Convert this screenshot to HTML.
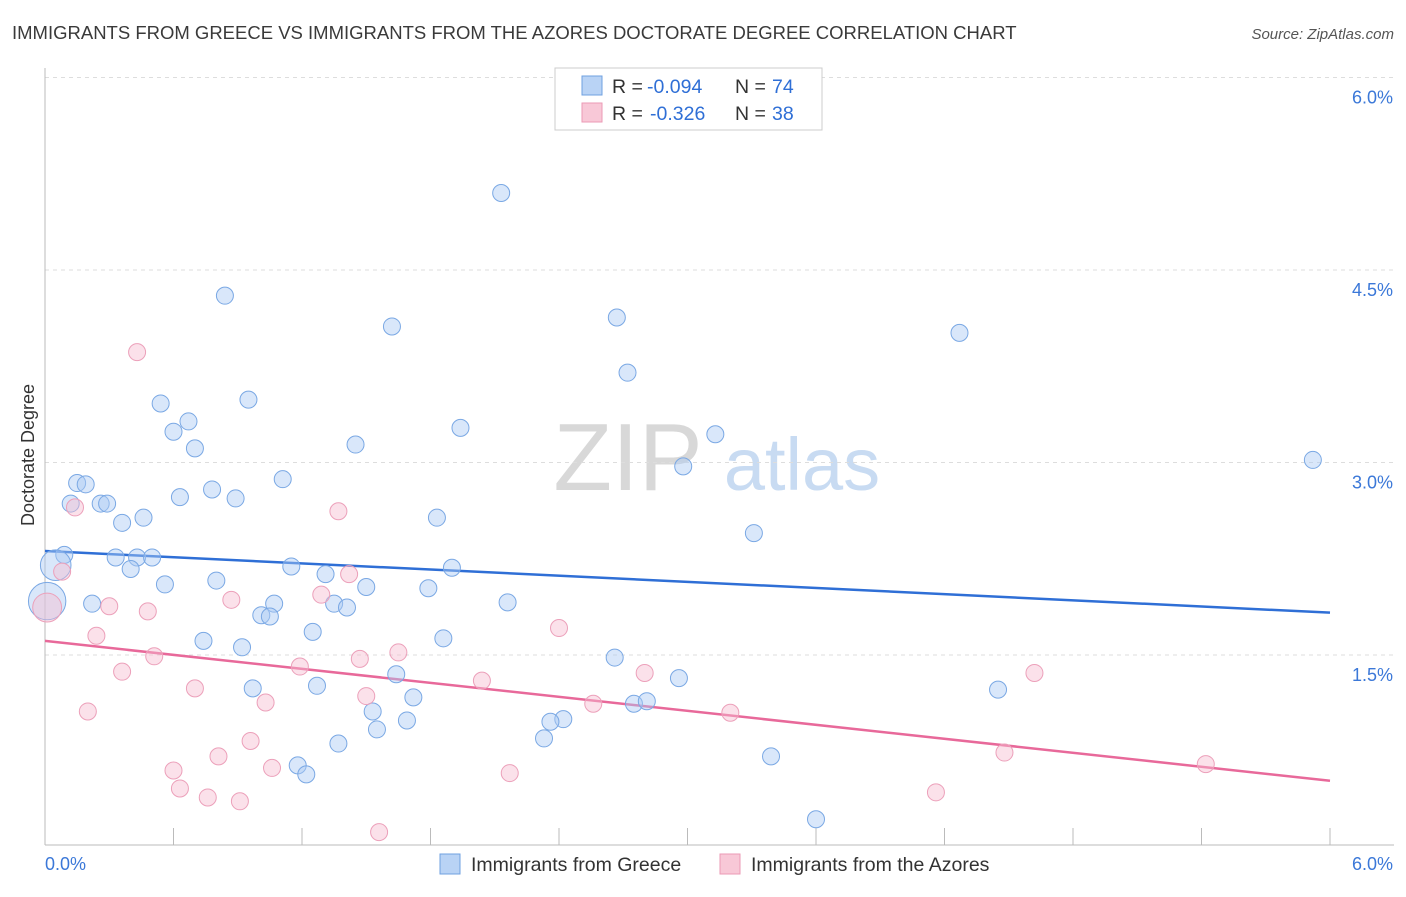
<!DOCTYPE html>
<html><head><meta charset="utf-8"><style>
body{margin:0;background:#fff;font-family:"Liberation Sans",sans-serif}
svg text{font-family:"Liberation Sans",sans-serif}
</style></head><body>
<svg id="chart" width="1406" height="892" xmlns="http://www.w3.org/2000/svg">
<text x="12" y="39" font-size="18.5" fill="#3a3a3a">IMMIGRANTS FROM GREECE VS IMMIGRANTS FROM THE AZORES DOCTORATE DEGREE CORRELATION CHART</text>
<text x="1394" y="39" font-size="15" fill="#555" font-style="italic" text-anchor="end">Source: ZipAtlas.com</text>
<g>
<text x="628" y="490" font-size="96" fill="#d8d8d8" font-family="Liberation Serif" text-anchor="middle">ZIP</text>
<text x="802" y="490" font-size="74" fill="#c8dbf2" text-anchor="middle">atlas</text>
</g>
<g id="grid"></g>
<g id="axes"></g>
<text transform="translate(34,455) rotate(-90)" font-size="18" fill="#333" text-anchor="middle">Doctorate Degree</text>
<line id="trend-blue" stroke="#2f6fd6" stroke-width="2.5"/>
<line id="trend-pink" stroke="#e8699a" stroke-width="2.5"/>
<g id="pts"></g>
<g>
<rect x="555" y="68" width="267" height="62" fill="#fff" stroke="#ccc"/>
<rect x="582" y="76" width="20" height="19" fill="#b9d3f5" stroke="#6fa0e0"/>
<rect x="582" y="103" width="20" height="19" fill="#f8c8d7" stroke="#eb9ab5"/>
<text x="612" y="93" font-size="19.5" fill="#333">R =</text>
<text x="647" y="93" font-size="19.5" fill="#2f6fd6">-0.094</text>
<text x="735" y="93" font-size="19.5" fill="#333">N =</text>
<text x="772" y="93" font-size="19.5" fill="#2f6fd6">74</text>
<text x="612" y="120" font-size="19.5" fill="#333">R =</text>
<text x="650" y="120" font-size="19.5" fill="#2f6fd6">-0.326</text>
<text x="735" y="120" font-size="19.5" fill="#333">N =</text>
<text x="772" y="120" font-size="19.5" fill="#2f6fd6">38</text>
</g>
<g>
<rect x="440" y="854" width="20" height="20" fill="#b9d3f5" stroke="#6fa0e0"/>
<text x="471" y="871" font-size="19.5" fill="#333">Immigrants from Greece</text>
<rect x="720" y="854" width="20" height="20" fill="#f8c8d7" stroke="#eb9ab5"/>
<text x="751" y="871" font-size="19.5" fill="#333">Immigrants from the Azores</text>
</g>
</svg>
<script>
const greeceX=[2.13,0.84,1.62,2.67,4.27,2.72,0.54,0.95,0.67,0.60,1.94,0.70,1.45,3.13,2.98,5.92,0.15,0.19,1.11,0.78,0.63,0.89,0.12,0.26,0.29,0.46,0.36,1.83,3.31,0.09,0.33,0.43,0.50,0.40,1.15,1.90,1.31,0.56,0.80,1.50,1.79,0.22,1.07,1.35,1.41,2.16,1.01,1.05,1.25,1.86,0.74,0.92,2.66,1.64,2.96,1.27,0.97,1.72,4.45,2.75,2.81,1.53,2.42,2.36,1.69,1.55,2.33,1.37,3.39,1.18,1.22,3.60,0.01,0.05];
const greeceY=[5.10,4.30,4.06,4.13,4.01,3.70,3.46,3.49,3.32,3.24,3.27,3.11,3.14,3.22,2.97,3.02,2.84,2.83,2.87,2.79,2.73,2.72,2.68,2.68,2.68,2.57,2.53,2.57,2.45,2.28,2.26,2.26,2.26,2.17,2.19,2.18,2.13,2.05,2.08,2.03,2.02,1.90,1.90,1.90,1.87,1.91,1.81,1.80,1.68,1.63,1.61,1.56,1.48,1.35,1.32,1.26,1.24,1.17,1.23,1.12,1.14,1.06,1.00,0.98,0.99,0.92,0.85,0.81,0.71,0.64,0.57,0.22,1.92,2.20];
const greeceSize=[1,1,1,1,1,1,1,1,1,1,1,1,1,1,1,1,1,1,1,1,1,1,1,1,1,1,1,1,1,1,1,1,1,1,1,1,1,1,1,1,1,1,1,1,1,1,1,1,1,1,1,1,1,1,1,1,1,1,1,1,1,1,1,1,1,1,1,1,1,1,1,1,2.2,1.8];
const azoresX=[0.43,1.37,0.14,0.08,1.42,1.29,0.87,0.30,0.48,0.24,2.40,0.51,1.65,1.47,1.19,0.36,2.80,4.62,0.70,2.04,1.50,1.03,2.56,0.20,3.20,0.96,0.81,4.48,0.60,1.06,2.17,0.63,5.42,0.76,0.91,4.16,1.56,0.01];
const azoresY=[3.86,2.62,2.65,2.15,2.13,1.97,1.93,1.88,1.84,1.65,1.71,1.49,1.52,1.47,1.41,1.37,1.36,1.36,1.24,1.30,1.18,1.13,1.12,1.06,1.05,0.83,0.71,0.74,0.60,0.62,0.58,0.46,0.65,0.39,0.36,0.43,0.12,1.87];
const azoresSize=[1,1,1,1,1,1,1,1,1,1,1,1,1,1,1,1,1,1,1,1,1,1,1,1,1,1,1,1,1,1,1,1,1,1,1,1,1,1.7];
const trendGreece=[2.31,1.83];
const trendAzores=[1.61,0.52];
const yTicks=[1.5,3.0,4.5,6.0];
const yTickLabels=["1.5%","3.0%","4.5%","6.0%"];
const xTicks=[0.6,1.2,1.8,2.4,3.0,3.6,4.2,4.8,5.4,6.0];

const NS="http://www.w3.org/2000/svg";
const X0=45,X1=1330,Y0=847.5,Y6=77.5;
const sx=v=>X0+(X1-X0)*v/6;
const sy=v=>Y0-(Y0-Y6)*v/6;
function mk(tag,attrs,parent){const e=document.createElementNS(NS,tag);for(const k in attrs)e.setAttribute(k,attrs[k]);parent.appendChild(e);return e;}
const grid=document.getElementById('grid'),axes=document.getElementById('axes'),pts=document.getElementById('pts');
yTicks.forEach((t,i)=>{
 const l=mk('line',{x1:X0,x2:1394,y1:sy(t),y2:sy(t),stroke:'#ddd','stroke-dasharray':'4,4'},grid);
 
 
 const tx=mk('text',{x:1393,y:sy(t)+26,'font-size':18,fill:'#3b78d8','text-anchor':'end'},grid);
 tx.textContent=yTickLabels[i];
 
 
});
let a=mk('line',{x1:X0,x2:X0,y1:68,y2:845,stroke:'#bbb'},axes);


a=mk('line',{x1:X0,x2:1394,y1:845,y2:845,stroke:'#bbb'},axes);


xTicks.forEach(t=>{
 const l=mk('line',{x1:sx(t),x2:sx(t),y1:828,y2:845,stroke:'#bbb'},axes);
 
 
});
let t0=mk('text',{x:45,y:870,'font-size':18,fill:'#3b78d8'},axes);t0.textContent='0.0%';


let t1=mk('text',{x:1393,y:870,'font-size':18,fill:'#3b78d8','text-anchor':'end'},axes);t1.textContent='6.0%';


function draw(xs,ys,ss,fill,stroke,name){
 xs.forEach((x,i)=>{
  const c=mk('circle',{cx:sx(x),cy:sy(ys[i]),r:8.5*ss[i],fill:fill,stroke:stroke,'stroke-width':1},pts);
  
  
 });
}
draw(greeceX,greeceY,greeceSize,'rgba(170,202,244,0.45)','#7aa8e4','greece-point');
draw(azoresX,azoresY,azoresSize,'rgba(247,188,208,0.45)','#eca0ba','azores-point');
const tb=document.getElementById('trend-blue');
tb.setAttribute('x1',sx(0));tb.setAttribute('x2',sx(6));tb.setAttribute('y1',sy(trendGreece[0]));tb.setAttribute('y2',sy(trendGreece[1]));
const tp=document.getElementById('trend-pink');
tp.setAttribute('x1',sx(0));tp.setAttribute('x2',sx(6));tp.setAttribute('y1',sy(trendAzores[0]));tp.setAttribute('y2',sy(trendAzores[1]));
</script>
</body></html>
